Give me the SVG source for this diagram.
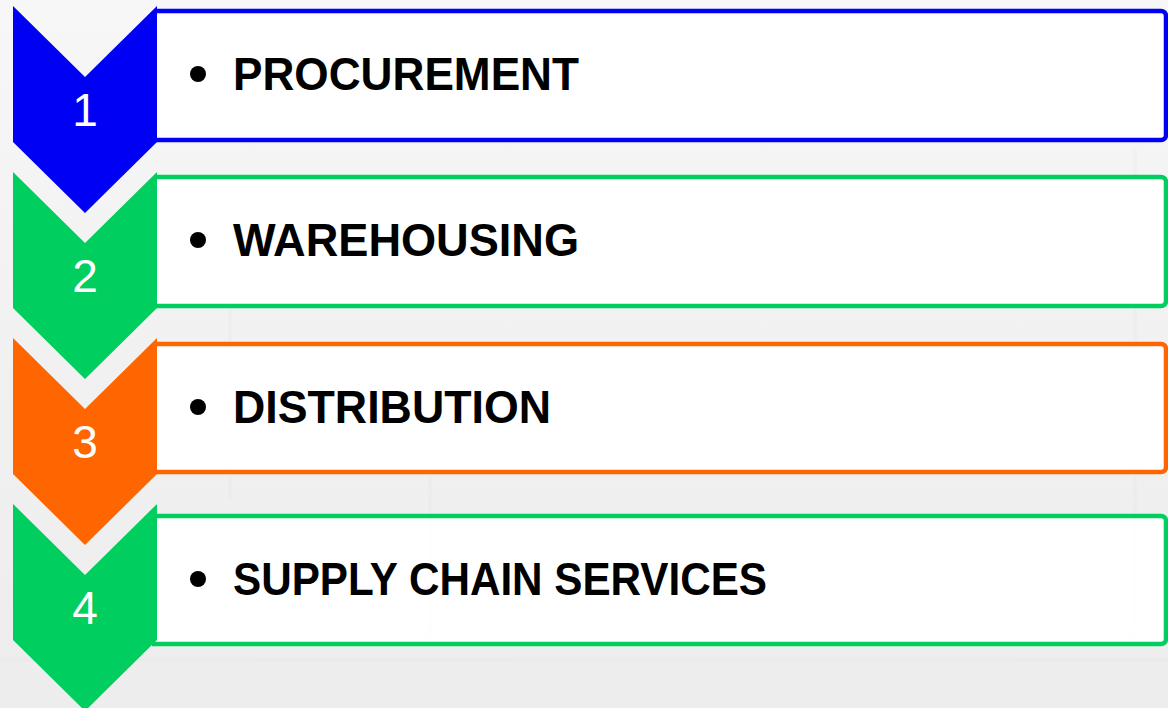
<svg xmlns="http://www.w3.org/2000/svg" width="1168" height="708" viewBox="0 0 1168 708">
  <defs>
    <linearGradient id="bg" x1="0" y1="0" x2="0" y2="1">
      <stop offset="0" stop-color="#F7F7F7"/>
      <stop offset="0.5" stop-color="#F1F1F1"/>
      <stop offset="1" stop-color="#EDEDED"/>
    </linearGradient>
  </defs>
  <style>
    .box { fill: #FFFFFF; fill-opacity: 0.95; stroke-width: 4.5; }
    .label { font-family: "Liberation Sans", Arial, sans-serif; font-weight: bold; font-size: 46px; fill: #000000; }
    .num { font-family: "Liberation Sans", Arial, sans-serif; font-size: 46px; fill: #FFFFFF; text-anchor: middle; }
    .blue { fill: #0000F5; }
    .green { fill: #00CF60; }
    .orange { fill: #FF6600; }
    .sblue { stroke: #0000F5; }
    .sgreen { stroke: #00CF60; }
    .sorange { stroke: #FF6600; }
  </style>
  <rect x="0" y="0" width="1168" height="708" fill="url(#bg)"/>
  <g opacity="0.25" fill="none" stroke="#E2E2E2" stroke-width="3">
    <line x1="1135" y1="150" x2="1135" y2="640"/>
    <line x1="230" y1="300" x2="230" y2="500"/>
    <line x1="430" y1="470" x2="430" y2="640"/>
    <line x1="0" y1="660" x2="1168" y2="660"/>
  </g>

  <g id="step1">
    <path class="box sblue" d="M157,11 H1161 A5,5 0 0 1 1166,16 V135 A5,5 0 0 1 1161,140 H154"/>
    <polygon class="blue" points="13,6 85,77 157,6 157,142 85,213 13,142"/>
    <text class="num" x="85" y="126">1</text>
    <circle cx="198" cy="74" r="8"/>
    <text class="label" x="233" y="90" textLength="346" lengthAdjust="spacingAndGlyphs">PROCUREMENT</text>
  </g>

  <g id="step2">
    <path class="box sgreen" d="M157,177 H1161 A5,5 0 0 1 1166,182 V301 A5,5 0 0 1 1161,306 H154"/>
    <polygon class="green" points="13,172 85,243 157,172 157,308 85,379 13,308"/>
    <text class="num" x="85" y="292">2</text>
    <circle cx="198" cy="240" r="8"/>
    <text class="label" x="233" y="256" textLength="346" lengthAdjust="spacingAndGlyphs">WAREHOUSING</text>
  </g>

  <g id="step3">
    <path class="box sorange" d="M157,344 H1161 A5,5 0 0 1 1166,349 V467 A5,5 0 0 1 1161,472 H154"/>
    <polygon class="orange" points="13,338 85,409 157,338 157,474 85,545 13,474"/>
    <text class="num" x="85" y="458">3</text>
    <circle cx="198" cy="407" r="8"/>
    <text class="label" x="233" y="423" textLength="318" lengthAdjust="spacingAndGlyphs">DISTRIBUTION</text>
  </g>

  <g id="step4">
    <path class="box sgreen" d="M157,516 H1161 A5,5 0 0 1 1166,521 V639 A5,5 0 0 1 1161,644 H152"/>
    <polygon class="green" points="13,504 85,575 157,504 157,640 85,711 13,640"/>
    <text class="num" x="85" y="624">4</text>
    <circle cx="198" cy="579" r="8"/>
    <text class="label" x="233" y="595" textLength="534" lengthAdjust="spacingAndGlyphs">SUPPLY CHAIN SERVICES</text>
  </g>

  <g id="connectors"></g>
</svg>
